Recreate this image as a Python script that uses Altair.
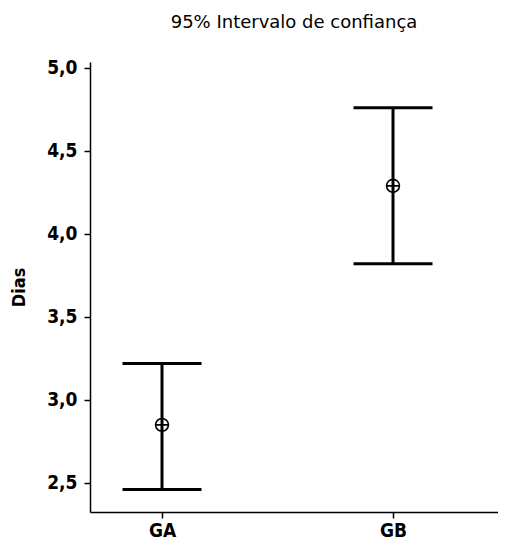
import altair as alt
import pandas as pd

groups = ["GA", "GB"]
means = [2.85, 4.29]
lower = [2.46, 3.82]
upper = [3.22, 4.76]
y_ticks = [2.5, 3.0, 3.5, 4.0, 4.5, 5.0]

df = pd.DataFrame({"grupo": groups, "pos": list(range(len(groups))),
                   "media": means, "inf": lower, "sup": upper})

FONT = "DejaVu Sans"
BOLD = "DejaVu Sans Condensed, DejaVu Sans"
label_js = "[" + ",".join("'%s'" % g for g in groups) + "]"
xscale = alt.Scale(domain=[-0.3117, 1.4545], nice=False, zero=False)
x_enc = alt.X("pos:Q", scale=xscale, title=None,
              axis=alt.Axis(values=list(range(len(groups))),
                            labelExpr=label_js + "[datum.value]",
                            labelFont=BOLD, labelFontSize=19, labelFontWeight="bold",
                            labelColor="black", labelAngle=0, labelPadding=3,
                            tickSize=6, tickWidth=1.5, tickColor="black",
                            domainColor="black", domainWidth=1.5, grid=False))

y_enc = alt.Y("inf:Q", scale=alt.Scale(domain=[2.325, 5.036], nice=False, zero=False),
              title="Dias",
              axis=alt.Axis(values=y_ticks,
                            labelExpr="replace(format(datum.value, '.1f'), '.', ',')",
                            labelFont=BOLD, labelFontSize=19, labelFontWeight="bold",
                            labelColor="black", labelPadding=7,
                            tickSize=6, tickWidth=1.5, tickColor="black",
                            domainColor="black", domainWidth=1.5,
                            titleFont=BOLD, titleFontSize=18, titleFontWeight="bold",
                            titleColor="black", titlePadding=18, grid=False))

base = alt.Chart(df)

rule = base.mark_rule(strokeWidth=3, color="black").encode(
    x=x_enc, y=y_enc, y2="sup:Q")
cap_lo = base.mark_tick(size=79, thickness=3, color="black", opacity=1,
                        orient="horizontal").encode(x="pos:Q", y="inf:Q")
cap_hi = base.mark_tick(size=79, thickness=3, color="black", opacity=1,
                        orient="horizontal").encode(x="pos:Q", y="sup:Q")

marker_shape = "M1,0A1,1 0 1,1 -1,0A1,1 0 1,1 1,0M-1,0L1,0"
pts = base.mark_point(shape=marker_shape, size=165, strokeWidth=1.6,
                      color="black", filled=False, opacity=1).encode(
    x="pos:Q", y="media:Q")

chart = alt.layer(rule, cap_lo, cap_hi, pts).properties(
    width=408, height=450,
    autosize=alt.AutoSizeParams(type="none"),
    padding={"left": 82, "top": 54, "right": 0, "bottom": 28},
    title=alt.TitleParams("95% Intervalo de confiança", font=FONT, fontSize=18,
                          fontWeight="normal", color="black", anchor="middle", offset=27),
).configure_view(stroke=None)

chart.save("out.html", embed_options={"renderer": "svg", "actions": False})
